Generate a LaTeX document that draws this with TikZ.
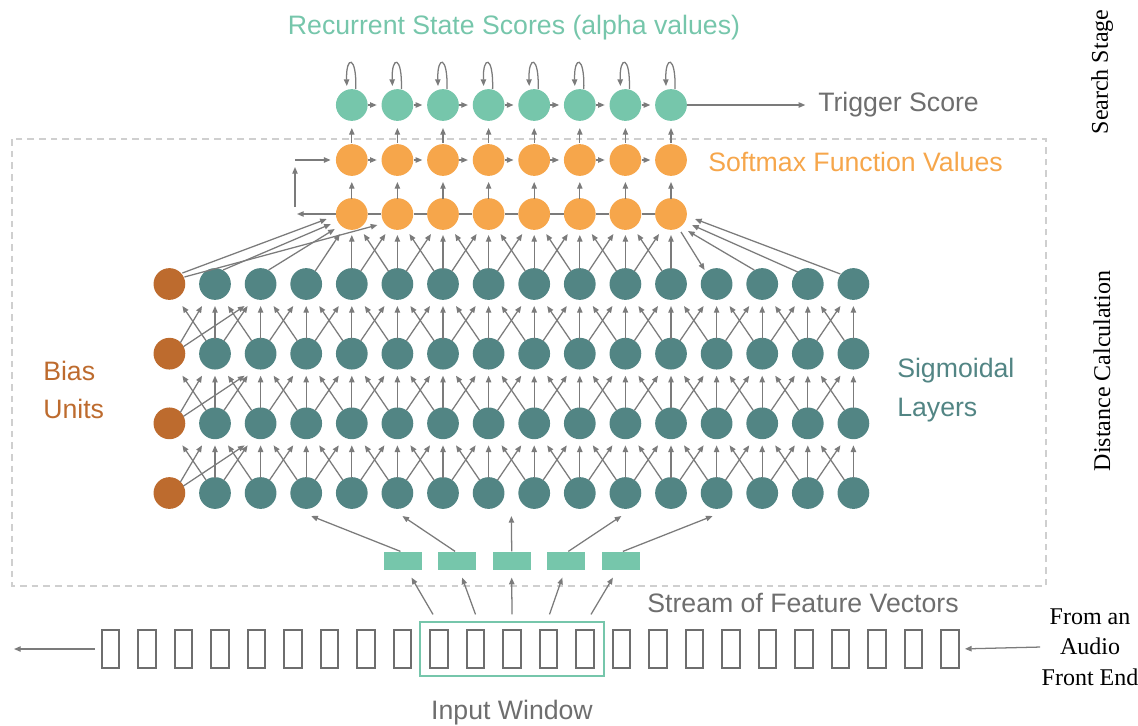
\documentclass[tikz,border=0pt]{standalone}
\usepackage{fontspec}
\setmainfont{Liberation Sans}
\newfontfamily\serifrm{Liberation Serif}
\usetikzlibrary{calc,arrows.meta}
\definecolor{tealL}{HTML}{76C6AB}
\definecolor{orng}{HTML}{F6A64B}
\definecolor{tealD}{HTML}{528584}
\definecolor{biasc}{HTML}{BD6B2E}
\definecolor{arrc}{HTML}{7B7B7B}
\definecolor{txtg}{HTML}{6E6E6E}
\definecolor{dashgray}{HTML}{CFCFCF}
\begin{document}
\begin{tikzpicture}[x=0.75pt,y=-0.75pt,
  neuron/.style={circle,inner sep=0pt,minimum size=23.8pt},
  recn/.style={neuron,fill=tealL},
  softn/.style={neuron,fill=orng},
  sign/.style={neuron,fill=tealD},
  biasn/.style={neuron,fill=biasc},
  conn/.style={draw=arrc,line width=0.95pt,-{Triangle[length=5pt,width=4pt]}},
  plainln/.style={draw=arrc,line width=0.95pt},
  fvec/.style={fill=tealL,minimum width=28.5pt,minimum height=14pt,inner sep=0pt},
  sbox/.style={draw=txtg,line width=1.4pt,minimum width=13pt,minimum height=28pt,inner sep=0pt},
  lbl/.style={font=\fontsize{20}{29}\selectfont,inner sep=0pt},
  serlbl/.style={font=\serifrm\fontsize{18}{22.9}\selectfont,inner sep=0pt},
]
\useasboundingbox (0,0) rectangle (1138,725);

% dashed region
\draw[dashgray,line width=1.1pt,dash pattern=on 5pt off 3.75pt] (12,139) rectangle (1046,586);

% sigmoid layers and bias units
\foreach \r in {1,...,4}{
  \pgfmathsetmacro\yy{284+69.67*(\r-1)}
  \node[biasn] (g\r-0) at (169.4,\yy) {};
  \foreach \c in {1,...,15}{
    \node[sign] (g\r-\c) at ({169.4+45.6*\c},\yy) {};
  }
}
% softmax rows and recurrent row
\foreach \c in {4,...,11}{
  \node[softn] (ln\c) at ({169.4+45.6*\c},214) {};
  \node[softn] (sm\c) at ({169.4+45.6*\c},160) {};
  \node[recn] (rc\c) at ({169.4+45.6*\c},105) {};
}

% layer to layer connections
\foreach \r in {2,3,4}{
  \pgfmathtruncatemacro\u{\r-1}
  \draw[conn] ($(g\r-0)+(11,-11)$) -- ($(g\u-1)+(-13,22)$);
  \draw[conn] ($(g\r-0)+(14,-7)$) -- ($(g\u-2)+(-16,22)$);
  \foreach \c in {1,...,15}{
    \pgfmathtruncatemacro\cl{\c-1}
    \pgfmathtruncatemacro\cr{\c+1}
    \draw[conn] ($(g\r-\c)+(0,-15)$) -- ($(g\u-\c)+(0,22)$);
    \draw[conn] ($(g\r-\c)+(-9,-13)$) -- ($(g\u-\cl)+(13,22)$);
    \ifnum\c<15 \draw[conn] ($(g\r-\c)+(9,-13)$) -- ($(g\u-\cr)+(-13,22)$);\fi
  }
}

% top sigmoid row to first softmax row
\foreach \c in {4,...,11}{
  \pgfmathtruncatemacro\cl{\c-1}
  \draw[conn] ($(g1-\c)+(0,-15)$) -- ($(ln\c)+(0,21)$);
  \draw[conn] ($(g1-\cl)+(9,-13)$) -- ($(ln\c)+(-12,20)$);
}
\foreach \c in {4,...,10}{
  \pgfmathtruncatemacro\cr{\c+1}
  \draw[conn] ($(g1-\cr)+(-9,-13)$) -- ($(ln\c)+(12,20)$);
}
\draw[conn] ($(g1-0)+(13,-11)$) -- ($(ln4)+(-25,5)$);
\draw[conn] ($(g1-0)+(15,-7)$) -- ($(ln5)+(-20,11)$);
\draw[conn] ($(g1-1)+(8,-14)$) -- ($(ln4)+(-21,10)$);
\draw[conn] ($(g1-2)+(8,-14)$) -- ($(ln4)+(-17,15)$);
\draw[conn] ($(ln11)+(10,18)$) -- ($(g1-12)+(-12,-14)$);
\draw[conn] ($(g1-13)+(-8,-14)$) -- ($(ln11)+(17,17)$);
\draw[conn] ($(g1-14)+(-10,-12)$) -- ($(ln11)+(21,11)$);
\draw[conn] ($(g1-15)+(-13,-10)$) -- ($(ln11)+(24,5)$);

% softmax internal connections
\foreach \c in {4,...,11}{
  \draw[conn] ($(ln\c)+(0,-15)$) -- ($(sm\c)+(0,22)$);
  \draw[conn] ($(sm\c)+(0,-17)$) -- ($(rc\c)+(0,23)$);
  \draw[conn] ($(rc\c)+(4,-16)$) .. controls ($(rc\c)+(5,-50)$) and ($(rc\c)+(-6,-50)$) .. ($(rc\c)+(-5,-19)$);
}
\foreach \c in {4,...,10}{
  \pgfmathtruncatemacro\cr{\c+1}
  \draw[plainln] (ln\c.east) -- (ln\cr.west);
  \draw[conn,shorten >=3.4pt] (sm\c.east) -- (sm\cr.west);
  \draw[conn,shorten >=3.4pt] (rc\c.east) -- (rc\cr.west);
}
\coordinate (fbl) at (297,214);
\coordinate (fbb) at (295,207);
\coordinate (fbt) at (295,160);
\draw[conn] (ln4.west) -- (fbl);
\draw[conn] (fbb) -- ($(fbt)+(0,7)$);
\draw[conn,shorten >=3.8pt] (fbt) -- (sm4.west);

% labels
\node[lbl,text=tealL] (title) at (514,28) {Recurrent State Scores (alpha values)};
\node[lbl,text=txtg,anchor=west] (trig) at (818,105) {Trigger Score};
\draw[conn,shorten >=9.5pt] (rc11.east) -- (trig.west);
\node[lbl,text=orng,anchor=west] (smlbl) at (708,162) {Softmax Function Values};
\node[lbl,text=biasc,anchor=west,align=left] (biaslbl) at (43,390) {Bias\\Units};
\node[lbl,text=tealD,anchor=west,align=left] (siglbl) at (897,390) {Sigmoidal\\Layers};

% feature vectors
\foreach \i in {1,...,5}{
  \node[fvec] (f\i) at ({402.5+54.6*(\i-1)},561) {};
}
\draw[conn] ($(f1.north)+(-2,0)$) -- ($(g4-3)+(5,23)$);
\draw[conn] ($(f2.north)+(-2,0)$) -- ($(g4-5)+(5,23)$);
\draw[conn] (f3.north) -- ($(g4-7)!0.5!(g4-8)+(0,23)$);
\draw[conn] ($(f4.north)+(2,0)$) -- ($(g4-10)+(-4,23)$);
\draw[conn] ($(f5.north)+(2,0)$) -- ($(g4-12)+(-4,23)$);

% stream of feature vectors
\node[draw=tealL,line width=1.4pt,minimum width=138pt,minimum height=40.5pt,inner sep=0pt] (win) at (512,649) {};
\foreach \j in {0,...,23}{
  \node[sbox] (v\j) at ({110.5+36.5*\j},649) {};
}
\draw[conn] ($(v9.north)+(-6,-15)$) -- ($(f1.south)+(9,7)$);
\draw[conn] ($(v10.north)+(0,-15)$) -- ($(f2.south)+(5,7)$);
\draw[conn] ($(v11.north)+(0,-15)$) -- ($(f3.south)+(0,7)$);
\draw[conn] ($(v12.north)+(1,-15)$) -- ($(f4.south)+(-4,7)$);
\draw[conn] ($(v13.north)+(6,-15)$) -- ($(f5.south)+(-8,7)$);
\coordinate (sl) at (14,649);
\draw[conn] ($(v0.west)+(-6,0)$) -- (sl);

\node[lbl,text=txtg] (streamlbl) at (803,603) {Stream of Feature Vectors};
\node[lbl,text=txtg] (winlbl) at (512,713) {Input Window};

\node[serlbl,align=center] (fe) at (1090,647) {From an\\Audio\\Front End};
\draw[conn,shorten >=4pt,shorten <=1pt] (fe.west) -- (v23.east);

\node[serlbl,rotate=90] (ss) at (1102,72) {Search Stage};
\node[serlbl,rotate=90] (dc) at (1102,371) {Distance Calculation};
\end{tikzpicture}
\end{document}
